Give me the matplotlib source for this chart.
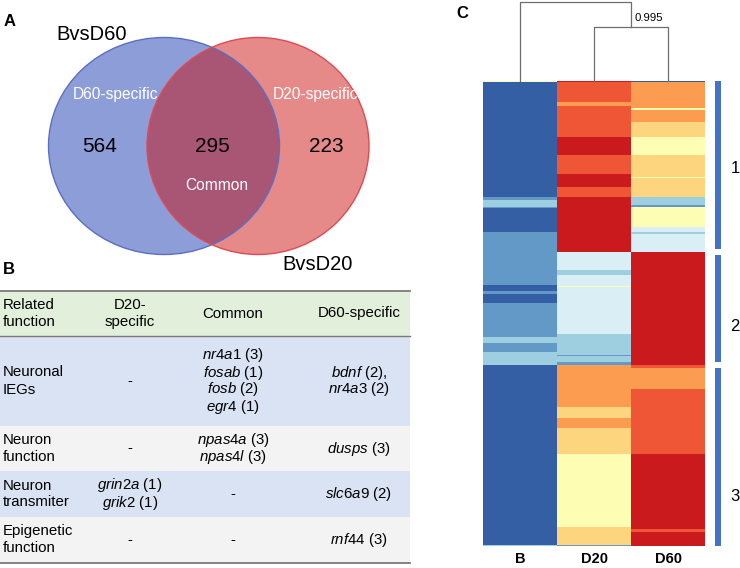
import matplotlib
matplotlib.use("Agg")
import matplotlib.pyplot as plt
from matplotlib.patches import Ellipse, Rectangle
from matplotlib.colors import ListedColormap
import numpy as np

plt.rcParams['font.family'] = ['Liberation Sans', 'DejaVu Sans']
plt.rcParams['mathtext.fontset'] = 'custom'
plt.rcParams['mathtext.it'] = 'Liberation Sans:italic'
plt.rcParams['mathtext.rm'] = 'Liberation Sans'

# ---- panel A : venn ----
venn_sets = ['BvsD60', 'BvsD20']
venn_regions = ['D60-specific', 'Common', 'D20-specific']
venn_counts = [564, 295, 223]

# ---- panel B : table ----
table_header = ['Related\nfunction', 'D20-\nspecific', 'Common', 'D60-specific']
functions = ['Neuronal\nIEGs', 'Neuron\nfunction', 'Neuron\ntransmiter', 'Epigenetic\nfunction']
d20_genes = [[], [], ['grin2a (1)', 'grik2 (1)'], []]
common_genes = [['nr4a1 (3)', 'fosab (1)', 'fosb (2)', 'egr4 (1)'],
                ['npas4a (3)', 'npas4l (3)'], [], []]
d60_genes = [['bdnf (2),', 'nr4a3 (2)'], ['dusps (3)'], ['slc6a9 (2)'], ['rnf44 (3)']]

# ---- panel C : heatmap (level, number of rows) ----
samples = ['B', 'D20', 'D60']
level_colors = ['#345fa5', '#6399c6', '#9dcfe1', '#d9eef5', '#fefdb4',
                '#fdd57f', '#fc9c50', '#ef5636', '#cb1a1e']
heat_B = [(5, 1), (1, 115), (2, 3), (3, 7), (2, 1), (1, 24), (2, 53), (1, 6), (2, 3),
          (1, 9), (2, 34), (3, 6), (2, 9), (3, 13), (1, 180), (3, 1)]
heat_D20 = [(9, 1), (8, 20), (7, 4), (8, 31), (9, 18), (8, 19), (9, 13), (8, 10), (9, 55),
            (4, 18), (3, 5), (4, 11), (5, 1), (4, 47), (3, 21), (2, 1), (3, 6), (2, 3),
            (7, 42), (6, 11), (7, 10), (6, 26), (5, 73), (6, 18), (2, 1)]
heat_D60 = [(1, 1), (7, 26), (5, 2), (7, 12), (6, 15), (5, 18), (6, 22), (5, 1), (6, 19),
            (3, 8), (2, 2), (5, 20), (4, 5), (3, 2), (4, 18), (9, 113), (8, 3), (7, 21),
            (8, 65), (9, 75), (8, 3), (9, 13), (9, 1)]
cluster_names = ['1', '2', '3']
cluster_rows = [171, 113, 181]
merge_heights = [0.68, 1.0]   # D20+D60, then B
support = '0.995'


def expand(runs):
    return np.concatenate([np.full(n, lvl) for lvl, n in runs])


def gene_text(s):
    g, rest = s.split(' ', 1)
    return r'$\mathit{' + g + '}$ ' + rest


W, H = 740, 568
fig = plt.figure(figsize=(W / 100, H / 100), dpi=100)
ax = fig.add_axes([0, 0, 1, 1])
ax.set_xlim(0, W)
ax.set_ylim(H, 0)
ax.axis('off')

# venn
ax.add_patch(Ellipse((164, 146), 231, 217, facecolor='#8c9dd8', edgecolor='none'))
ax.add_patch(Ellipse((258, 146), 222, 217, facecolor=(0.79, 0.03, 0.03, 0.48), edgecolor='none'))
ax.add_patch(Ellipse((164, 146), 231, 217, facecolor='none', edgecolor='#5a6fc4', lw=1.0))
ax.add_patch(Ellipse((258, 146), 222, 217, facecolor='none', edgecolor='#e04a52', lw=1.0))
ax.text(4, 22, 'A', fontsize=12, fontweight='bold', ha='left', va='center')
ax.text(56, 34, venn_sets[0], fontsize=14.5, ha='left', va='center')
ax.text(282, 265, venn_sets[1], fontsize=14.5, ha='left', va='center')
for (x, y), name in zip([(116, 95), (217, 185), (316, 95)], venn_regions):
    ax.text(x, y, name, fontsize=11.2, color='white', ha='center', va='center')
for x, n in zip([100, 212, 326], venn_counts):
    ax.text(x, 146, str(n), fontsize=15, ha='center', va='center')

# table
ax.text(3, 269, 'B', fontsize=12, fontweight='bold', ha='left', va='center')
row_h = [45, 90, 45, 46, 46]
row_bg = ['#e2efda', '#dae3f3', '#f3f3f3', '#dae3f3', '#f3f3f3']
col_x = [3, 130, 233, 359]
tab_w = 410
line_sp = 17
fs = 10.8
tops = 291 + np.concatenate([[0], np.cumsum(row_h)[:-1]])
for top, h, c in zip(tops, row_h, row_bg):
    ax.add_patch(Rectangle((0, top), tab_w, h, facecolor=c, edgecolor='none'))
for y, lw in [(291, 1.3), (291 + row_h[0], 1.0), (291 + sum(row_h), 1.3)]:
    ax.plot([0, tab_w], [y, y], color='#7a7a7a', lw=lw)


def cell(x, yc, lines, ha='center', genes=True):
    if not lines:
        lines = ['-']
        genes = False
    n = len(lines)
    for i, s in enumerate(lines):
        y = yc + (i - (n - 1) / 2) * line_sp
        ax.text(x, y, gene_text(s) if genes and s != '-' else s,
                fontsize=fs, ha=ha, va='center')


yc = tops[0] + row_h[0] / 2
for j, htxt in enumerate(table_header):
    cell(col_x[j], yc, htxt.split('\n'), ha='left' if j == 0 else 'center', genes=False)
for i in range(len(functions)):
    yc = tops[i + 1] + row_h[i + 1] / 2
    cell(col_x[0], yc, functions[i].split('\n'), ha='left', genes=False)
    cell(col_x[1], yc, d20_genes[i])
    cell(col_x[2], yc, common_genes[i])
    cell(col_x[3], yc, d60_genes[i])

# heatmap
ax.text(456, 14, 'C', fontsize=12, fontweight='bold', ha='left', va='center')
mat = np.column_stack([expand(heat_B), expand(heat_D20), expand(heat_D60)])
nrows = mat.shape[0]
hx0, hx1, hy0, hy1 = 483, 705, 81, 546
hax = fig.add_axes([hx0 / W, 1 - hy1 / H, (hx1 - hx0) / W, (hy1 - hy0) / H])
hax.imshow(mat, cmap=ListedColormap(level_colors), vmin=0.5, vmax=9.5,
           aspect='auto', interpolation='nearest')
hax.set_xticks(range(3), samples, fontsize=10.5, fontweight='bold')
hax.set_yticks([])
hax.tick_params(length=0, pad=4)
for s in hax.spines.values():
    s.set_visible(False)

# dendrogram
dax = fig.add_axes([hx0 / W, 1 - hy0 / H, (hx1 - hx0) / W, (hy0 - 2) / H])
dax.set_xlim(-0.5, 2.5)
dax.set_ylim(0, 1)
dax.axis('off')
dc = '#6e6e6e'
h1, h2 = merge_heights
dax.plot([1, 1, 2, 2], [0, h1, h1, 0], color=dc, lw=0.9, clip_on=False)
dax.plot([0, 0, 1.5, 1.5], [0, h2, h2, h1], color=dc, lw=0.9, clip_on=False)
dax.text(1.55, 0.8, support, fontsize=8.2, ha='left', va='center')

# cluster bars
cax = fig.add_axes([hx1 / W, 1 - hy1 / H, (W - hx1) / W, (hy1 - hy0) / H])
cax.set_xlim(hx1, W)
cax.set_ylim(nrows, 0)
cax.axis('off')
bounds = np.concatenate([[0], np.cumsum(cluster_rows)])
label_frac = [0.52, 0.67, 0.72]
for k, name in enumerate(cluster_names):
    a = bounds[k] + (3 if k > 0 else 0)
    b = bounds[k + 1] - (3 if k < len(cluster_names) - 1 else 0)
    cax.plot([718, 718], [a, b], color='#4472c4', lw=4.3, solid_capstyle='butt')
    cax.text(735, a + (b - a) * label_frac[k], name, fontsize=12, ha='center', va='center')

fig.savefig('out.png', dpi=100)
